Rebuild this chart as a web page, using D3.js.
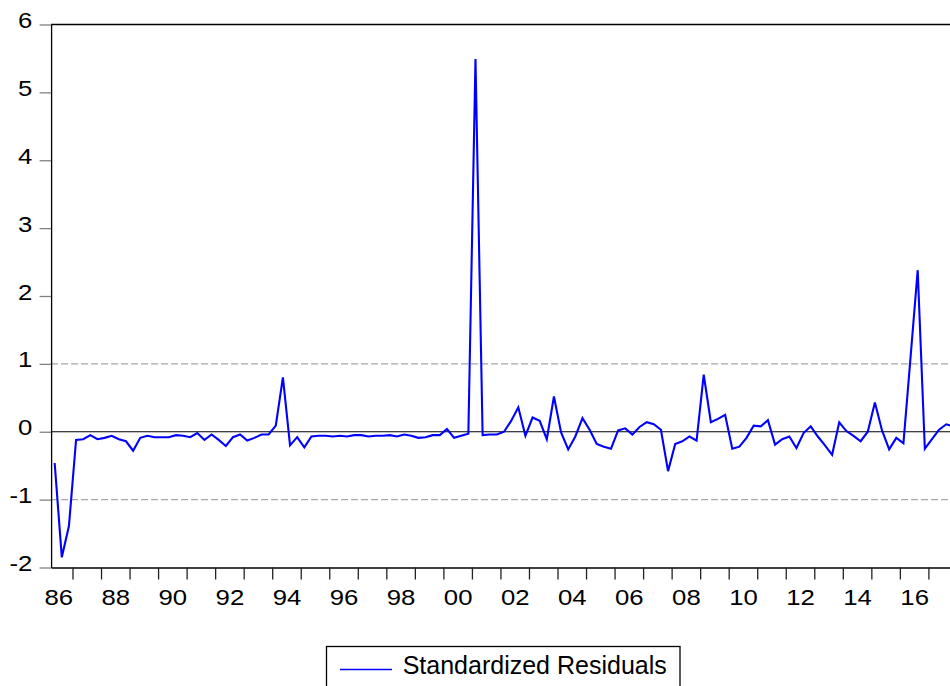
<!DOCTYPE html>
<html>
<head>
<meta charset="utf-8">
<script src="https://cdn.jsdelivr.net/npm/d3@7"></script>
<style>
  html, body { margin: 0; padding: 0; background: #fff; }
  svg { display: block; font-family: "Liberation Sans", Arial, sans-serif; }
</style>
</head>
<body>
<svg id="chart" width="950" height="686"></svg>
<script>
// Quarterly standardized residuals, first observation 1986Q2
const firstYear = 1986;
const firstQuarter = 2;
const residuals = [
  -0.46, -1.85, -1.39,
  -0.12, -0.11, -0.05, -0.11,
  -0.09, -0.06, -0.11, -0.14,
  -0.28, -0.09, -0.06, -0.08,
  -0.08, -0.08, -0.05, -0.06,
  -0.08, -0.02, -0.12, -0.04,
  -0.12, -0.21, -0.08, -0.04,
  -0.13, -0.09, -0.04, -0.04,
   0.09,  0.80, -0.20, -0.08,
  -0.23, -0.07, -0.06, -0.06,
  -0.07, -0.06, -0.07, -0.05,
  -0.05, -0.07, -0.06, -0.06,
  -0.05, -0.07, -0.04, -0.06,
  -0.09, -0.08, -0.05, -0.05,
   0.04, -0.09, -0.06, -0.03,
   5.49, -0.05, -0.04, -0.04,
   0.00,  0.16,  0.36, -0.06,
   0.21,  0.16, -0.11,  0.52,
  -0.01, -0.26, -0.07,  0.20,
   0.03, -0.18, -0.22, -0.25,
   0.02,  0.05, -0.04,  0.07,
   0.14,  0.11,  0.03, -0.58,
  -0.18, -0.14, -0.07, -0.13,
   0.84,  0.14,  0.19,  0.25,
  -0.25, -0.22, -0.09,  0.09,
   0.08,  0.17, -0.19, -0.11,
  -0.07, -0.24, -0.02,  0.08,
  -0.07, -0.20, -0.34,  0.14,
   0.01, -0.06, -0.14,  0.00,
   0.43,  0.02, -0.26, -0.09,
  -0.17,  1.10,  2.38, -0.25,
  -0.11,  0.03,  0.11,  0.08
];
const yTicks = [-2, -1, 0, 1, 2, 3, 4, 5, 6];
const yearTicks = d3.range(1987, 2018);
const labelYears = [1986, 1988, 1990, 1992, 1994, 1996, 1998, 2000, 2002, 2004, 2006, 2008, 2010, 2012, 2014, 2016];
const bandLevels = [-1, 1];
const seriesName = "Standardized Residuals";

// periods -> fractional year at the middle of each quarter
const points = residuals.map((v, i) => {
  const q = firstQuarter - 1 + i;
  const year = firstYear + Math.floor(q / 4);
  const quarter = (q % 4) + 1;
  return { t: year + (quarter - 1) / 4 + 0.125, value: v };
});

const svg = d3.select("#chart");
const yearWidth = 28.53;
const plotLeft = 51.1;
const x = d3.scaleLinear()
  .domain([1986.25, 2018])
  .range([plotLeft, plotLeft + (2018 - 1986.25) * yearWidth]);
const y = d3.scaleLinear().domain([-2, 6]).range([567.5, 24.5]);
const [x0, x1] = x.range();
const textStretch = 1.12;
const tickFont = 23;

// dashed reference lines at +/- 1
svg.append("g").selectAll("line").data(bandLevels).join("line")
  .attr("x1", x0).attr("x2", x1)
  .attr("y1", d => y(d)).attr("y2", d => y(d))
  .attr("stroke", "#a8a8a8").attr("stroke-width", 1.3)
  .attr("stroke-dasharray", "7,3");

// zero line
svg.append("line")
  .attr("x1", x0).attr("x2", x1)
  .attr("y1", y(0)).attr("y2", y(0))
  .attr("stroke", "#000").attr("stroke-width", 1.2);

// series
svg.append("path")
  .datum(points)
  .attr("fill", "none")
  .attr("stroke", "#0000ff")
  .attr("stroke-width", 2.1)
  .attr("stroke-linejoin", "miter")
  .attr("d", d3.line().x(d => x(d.t)).y(d => y(d.value)));

// frame: top and right edges
svg.append("line").attr("x1", x0).attr("x2", x1).attr("y1", y(6)).attr("y2", y(6))
  .attr("stroke", "#000").attr("stroke-width", 1.3);
svg.append("line").attr("x1", x1).attr("x2", x1).attr("y1", y(6)).attr("y2", y(-2))
  .attr("stroke", "#000").attr("stroke-width", 1.3);

// y axis
const yAxis = svg.append("g")
  .attr("transform", `translate(${x0},0)`)
  .call(d3.axisLeft(y).tickValues(yTicks).tickSize(11.5).tickSizeOuter(0).tickPadding(7)
    .tickFormat(d => String(d)));
yAxis.select(".domain").attr("stroke", "#000").attr("stroke-width", 1.3);
yAxis.selectAll(".tick line").attr("stroke", "#808080").attr("stroke-width", 1.3);
yAxis.selectAll(".tick text")
  .attr("font-size", tickFont).attr("fill", "#000")
  .attr("font-family", "Liberation Sans, Arial, sans-serif")
  .attr("x", -18.8 / textStretch)
  .attr("dy", 3)
  .attr("transform", `scale(${textStretch},1)`);

// x axis: year ticks
const xAxis = svg.append("g")
  .attr("transform", `translate(0,${y(-2)})`)
  .call(d3.axisBottom(x).tickValues(yearTicks).tickSize(12).tickSizeOuter(0).tickFormat(""));
xAxis.select(".domain").attr("stroke", "#000").attr("stroke-width", 1.3);
xAxis.selectAll(".tick line").attr("stroke", "#222").attr("stroke-width", 1.3);

// x axis: two-digit year labels centred on each labelled year
const xLabels = svg.append("g")
  .attr("transform", `translate(0,${y(-2)})`)
  .call(d3.axisBottom(x).tickValues(labelYears.map(yr => yr + 0.5)).tickSize(0)
    .tickFormat(d => String(Math.floor(d) % 100).padStart(2, "0")));
xLabels.select(".domain").remove();
xLabels.selectAll(".tick text")
  .attr("font-size", tickFont).attr("fill", "#000")
  .attr("font-family", "Liberation Sans, Arial, sans-serif")
  .attr("y", 37.5).attr("dy", 0)
  .attr("transform", `scale(${textStretch},1)`);

// legend
const legend = svg.append("g");
legend.append("rect")
  .attr("x", 326.5).attr("y", 646.5).attr("width", 353.5).attr("height", 60)
  .attr("fill", "#fff").attr("stroke", "#000").attr("stroke-width", 1.3);
legend.append("line")
  .attr("x1", 340).attr("x2", 392).attr("y1", 669.5).attr("y2", 669.5)
  .attr("stroke", "#0000ff").attr("stroke-width", 1.6);
legend.append("text")
  .attr("x", 402.7).attr("y", 673.7)
  .attr("font-size", 25).attr("fill", "#000")
  .text(seriesName);
</script>
</body>
</html>
